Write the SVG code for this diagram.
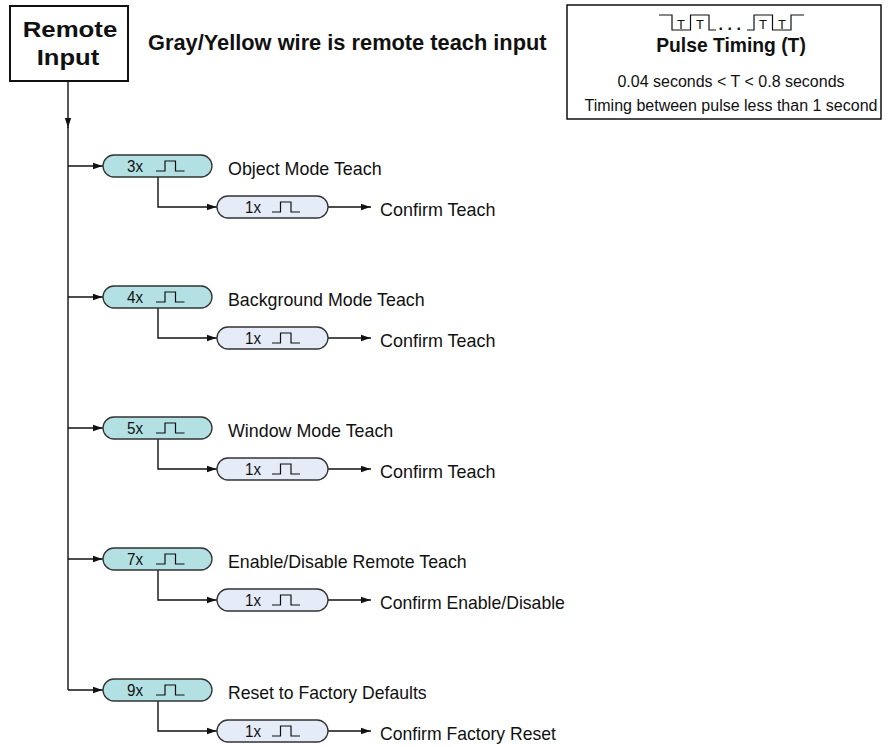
<svg xmlns="http://www.w3.org/2000/svg" width="891" height="747" viewBox="0 0 891 747">
<defs>
<marker id="ah" markerUnits="userSpaceOnUse" markerWidth="10" markerHeight="8" viewBox="0 0 10 8" refX="10" refY="4" orient="auto">
<path d="M0,0.8 L9.5,4 L0,7.2 z" fill="#111"/>
</marker>
</defs>
<style>
text{font-family:"Liberation Sans",Arial,sans-serif;fill:#111}
.b{font-weight:bold}
.lbl{font-size:19px}
.pt{font-size:17px;text-anchor:middle}
.big{fill:#b2e0e3;stroke:#333;stroke-width:1.3}
.small{fill:#e5ebf7;stroke:#333;stroke-width:1.3}
.pulse{fill:none;stroke:#111;stroke-width:1.2}
.con{fill:none;stroke:#111;stroke-width:1.4}
.arr{marker-end:url(#ah)}
.box{fill:#fff;stroke:#111}
.c{text-anchor:middle}
</style>
<rect width="891" height="747" fill="#fff"/>

<g id="remote-input">
<rect class="box" x="10" y="6" width="118" height="75" stroke-width="2"/>
<text class="b c" x="70" y="37" font-size="22" textLength="94.6" lengthAdjust="spacingAndGlyphs">Remote</text>
<text class="b c" x="68" y="65" font-size="22" textLength="62.6" lengthAdjust="spacingAndGlyphs">Input</text>
</g>

<g id="heading">
<text class="b" x="148" y="50" font-size="21.8">Gray/Yellow wire is remote teach input</text>
</g>

<g id="pulse-timing">
<rect class="box" x="567" y="5" width="314" height="114" stroke-width="1.5"/>
<path class="pulse" d="M659,15 H672 V30 H690.5 V15 H709 V30 H716"/>
<path class="pulse" d="M747,30 H754 V15 H772.5 V30 H791 V15 H804"/>
<text class="c" x="681" y="29" font-size="13">T</text>
<text class="c" x="700" y="29" font-size="13">T</text>
<text class="c" x="763" y="29" font-size="13">T</text>
<text class="c" x="782" y="29" font-size="13">T</text>
<text class="b c" x="732" y="30" font-size="16" letter-spacing="4.5">...</text>
<text class="b c" x="731" y="52" font-size="19.3">Pulse Timing (T)</text>
<text class="c" x="731" y="87" font-size="16">0.04 seconds &lt; T &lt; 0.8 seconds</text>
<text class="c" x="731" y="111" font-size="16">Timing between pulse less than 1 second</text>
</g>

<g id="connectors">
<line class="con arr" x1="68" y1="81" x2="68" y2="128"/>
<line class="con" x1="68" y1="127" x2="68" y2="690"/>
<line class="con arr" x1="68" y1="166" x2="103" y2="166"/>
<line class="con arr" x1="68" y1="297" x2="103" y2="297"/>
<line class="con arr" x1="68" y1="428" x2="103" y2="428"/>
<line class="con arr" x1="68" y1="559" x2="103" y2="559"/>
<line class="con arr" x1="68" y1="690" x2="103" y2="690"/>
<path class="con arr" d="M158,177 V207 H217"/>
<path class="con arr" d="M158,308 V338 H217"/>
<path class="con arr" d="M158,439 V469 H217"/>
<path class="con arr" d="M158,570 V600 H217"/>
<path class="con arr" d="M158,701 V731 H217"/>
<line class="con arr" x1="328" y1="207" x2="371" y2="207"/>
<line class="con arr" x1="328" y1="338" x2="371" y2="338"/>
<line class="con arr" x1="328" y1="469" x2="371" y2="469"/>
<line class="con arr" x1="328" y1="600" x2="371" y2="600"/>
<line class="con arr" x1="328" y1="731" x2="371" y2="731"/>
</g>

<g id="p3x">
<rect class="big" x="103" y="155" width="109" height="22" rx="11"/>
<text class="pt" x="135" y="172" textLength="16" lengthAdjust="spacingAndGlyphs">3x</text>
<path class="pulse" d="M156,171 H165 V161 H175.5 V171 H184.5"/>
<text class="lbl" x="228" y="175" textLength="153.6" lengthAdjust="spacingAndGlyphs">Object Mode Teach</text>
</g>
<g id="c3x">
<rect class="small" x="217" y="196" width="111" height="22" rx="11"/>
<text class="pt" x="253" y="213" textLength="16" lengthAdjust="spacingAndGlyphs">1x</text>
<path class="pulse" d="M272,212 H280.5 V202 H291 V212 H300"/>
<text class="lbl" x="380" y="216" textLength="115.4" lengthAdjust="spacingAndGlyphs">Confirm Teach</text>
</g>

<g id="p4x">
<rect class="big" x="103" y="286" width="109" height="22" rx="11"/>
<text class="pt" x="135" y="303" textLength="16" lengthAdjust="spacingAndGlyphs">4x</text>
<path class="pulse" d="M156,302 H165 V292 H175.5 V302 H184.5"/>
<text class="lbl" x="228" y="306" textLength="196.6" lengthAdjust="spacingAndGlyphs">Background Mode Teach</text>
</g>
<g id="c4x">
<rect class="small" x="217" y="327" width="111" height="22" rx="11"/>
<text class="pt" x="253" y="344" textLength="16" lengthAdjust="spacingAndGlyphs">1x</text>
<path class="pulse" d="M272,343 H280.5 V333 H291 V343 H300"/>
<text class="lbl" x="380" y="347" textLength="115.4" lengthAdjust="spacingAndGlyphs">Confirm Teach</text>
</g>

<g id="p5x">
<rect class="big" x="103" y="417" width="109" height="22" rx="11"/>
<text class="pt" x="135" y="434" textLength="16" lengthAdjust="spacingAndGlyphs">5x</text>
<path class="pulse" d="M156,433 H165 V423 H175.5 V433 H184.5"/>
<text class="lbl" x="228" y="437" textLength="165.3" lengthAdjust="spacingAndGlyphs">Window Mode Teach</text>
</g>
<g id="c5x">
<rect class="small" x="217" y="458" width="111" height="22" rx="11"/>
<text class="pt" x="253" y="475" textLength="16" lengthAdjust="spacingAndGlyphs">1x</text>
<path class="pulse" d="M272,474 H280.5 V464 H291 V474 H300"/>
<text class="lbl" x="380" y="478" textLength="115.4" lengthAdjust="spacingAndGlyphs">Confirm Teach</text>
</g>

<g id="p7x">
<rect class="big" x="103" y="548" width="109" height="22" rx="11"/>
<text class="pt" x="135" y="565" textLength="16" lengthAdjust="spacingAndGlyphs">7x</text>
<path class="pulse" d="M156,564 H165 V554 H175.5 V564 H184.5"/>
<text class="lbl" x="228" y="568" textLength="238.7" lengthAdjust="spacingAndGlyphs">Enable/Disable Remote Teach</text>
</g>
<g id="c7x">
<rect class="small" x="217" y="589" width="111" height="22" rx="11"/>
<text class="pt" x="253" y="606" textLength="16" lengthAdjust="spacingAndGlyphs">1x</text>
<path class="pulse" d="M272,605 H280.5 V595 H291 V605 H300"/>
<text class="lbl" x="380" y="609" textLength="184.9" lengthAdjust="spacingAndGlyphs">Confirm Enable/Disable</text>
</g>

<g id="p9x">
<rect class="big" x="103" y="679" width="109" height="22" rx="11"/>
<text class="pt" x="135" y="696" textLength="16" lengthAdjust="spacingAndGlyphs">9x</text>
<path class="pulse" d="M156,695 H165 V685 H175.5 V695 H184.5"/>
<text class="lbl" x="228" y="699" textLength="198.6" lengthAdjust="spacingAndGlyphs">Reset to Factory Defaults</text>
</g>
<g id="c9x">
<rect class="small" x="217" y="720" width="111" height="22" rx="11"/>
<text class="pt" x="253" y="737" textLength="16" lengthAdjust="spacingAndGlyphs">1x</text>
<path class="pulse" d="M272,736 H280.5 V726 H291 V736 H300"/>
<text class="lbl" x="380" y="740" textLength="176" lengthAdjust="spacingAndGlyphs">Confirm Factory Reset</text>
</g>
</svg>
